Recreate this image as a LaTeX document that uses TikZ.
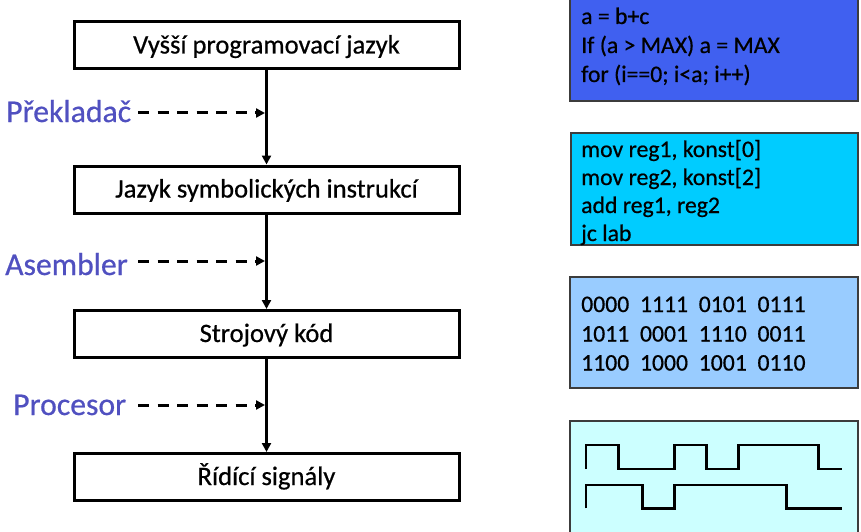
\documentclass[tikz,border=0pt]{standalone}
\usepackage{fontspec}
\setmainfont{Carlito}[RawFeature={embolden=0.6}]
\usetikzlibrary{arrows.meta}
\definecolor{lblue}{RGB}{80,80,192}
\definecolor{boxA}{RGB}{64,96,240}
\definecolor{boxB}{RGB}{0,204,255}
\definecolor{boxC}{RGB}{153,204,255}
\definecolor{boxD}{RGB}{204,255,255}
\definecolor{edge}{RGB}{60,60,60}
\begin{document}
\begin{tikzpicture}[x=1pt,y=-1pt,
  stage/.style={draw=black, line width=3pt, minimum width=385pt, minimum height=47pt,
    inner sep=0pt, font=\fontsize{26.6}{30}\selectfont, text height=19pt, text depth=3pt},
  lbl/.style={text=lblue, font=\fontsize{31.7}{36}\selectfont, inner sep=0pt, anchor=base west},
  flow/.style={line width=2.8pt, -{Triangle[length=9pt,width=9pt]}},
  dasharr/.style={line width=3pt, dash pattern=on 11pt off 8.5pt, -{Triangle[length=9pt,width=9pt]}},
  codebox/.style={draw=edge, line width=1.2pt},
  code/.style={font=\fontsize{23.7}{28}\selectfont, inner sep=0pt, anchor=base west},
  wave/.style={line width=2.5pt, line join=miter}]
\useasboundingbox (0,0) rectangle (861,532);
% left stages
\node[stage] (b1) at (266.5,45.5) {Vyšší programovací jazyk};
\node[stage] (b2) at (266.5,189.5) {Jazyk symbolických instrukcí};
\node[stage] (b3) at (266.5,334) {Strojový kód};
\node[stage] (b4) at (266.5,477) {Řídící signály};
\draw[flow] (b1.south) -- (b2.north);
\draw[flow] (b2.south) -- (b3.north);
\draw[flow] (b3.south) -- (b4.north);
% labels
\node[lbl] (p1) at (6,122) {Překladač};
\node[lbl] (p2) at (5,275) {Asembler};
\node[lbl] (p3) at (13,415) {Procesor};
\coordinate (s1) at (138,113); \coordinate (d1) at (265,113);
\coordinate (s2) at (138,261); \coordinate (d2) at (265,261);
\coordinate (s3) at (138,405); \coordinate (d3) at (265,405);
\draw[dasharr] (s1) -- (d1);
\draw[dasharr] (s2) -- (d2);
\draw[dasharr] (s3) -- (d3);
% right boxes
\filldraw[codebox, fill=boxA] (570,-2) rectangle (858,101);
\filldraw[codebox, fill=boxB] (571,133) rectangle (858,245);
\filldraw[codebox, fill=boxC] (570,277) rectangle (858,388);
\filldraw[codebox, fill=boxD] (570,421) rectangle (858,536);
\node[code] (a1) at (581,24) {a = b+c};
\node[code] (a2) at (581,53) {If (a > MAX) a = MAX};
\node[code] (a3) at (581,82) {for (i==0; i<a; i++)};
\node[code] (c1) at (581,157) {mov reg1, konst[0]};
\node[code] (c2) at (581,185) {mov reg2, konst[2]};
\node[code] (c3) at (581,213) {add reg1, reg2};
\node[code] (c4) at (581,241) {jc lab};
\node[code] (m1) at (581,312) {0000~~1111~~0101~~0111};
\node[code] (m2) at (581,341.5) {1011~~0001~~1110~~0011};
\node[code] (m3) at (581,370.5) {1100~~1000~~1001~~0110};
% signals
\draw[wave] (586,469) -- (586,445) -- (618.3,445) -- (618.3,469) -- (674.3,469) -- (674.3,445)
  -- (706.7,445) -- (706.7,469) -- (738.3,469) -- (738.3,445) -- (818.3,445) -- (818.3,469) -- (841.7,469);
\draw[wave] (586,508.3) -- (586,485) -- (642.3,485) -- (642.3,508.3) -- (674.3,508.3) -- (674.3,485)
  -- (786.7,485) -- (786.7,508.3) -- (841.7,508.3);
\end{tikzpicture}
\end{document}
